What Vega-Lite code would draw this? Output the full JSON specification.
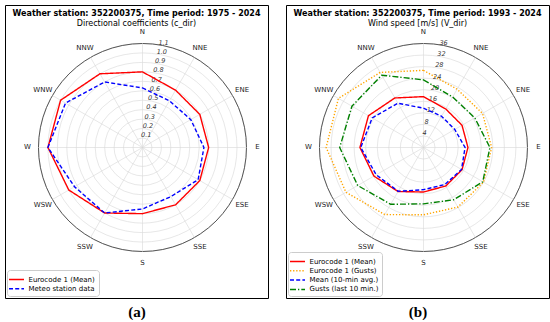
{
  "$schema": "https://vega.github.io/schema/vega-lite/v6.json",
  "padding": {"left": 4, "top": 4, "right": 0, "bottom": 0},
  "spacing": 16,
  "background": "white",
  "config": {
    "view": {"stroke": "black", "strokeWidth": 1},
    "axisX": {"domain": false, "ticks": false, "labels": false, "grid": false, "titleFont": "Liberation Serif", "titleFontSize": 15, "titleFontWeight": "bold", "titleColor": "black", "titlePadding": 6},
    "axisY": {"disable": true},
    "title": {"font": "DejaVu Sans", "fontSize": 8, "fontWeight": "bold", "color": "black", "subtitleFont": "DejaVu Sans", "subtitleFontSize": 8, "subtitleColor": "black", "subtitlePadding": 2, "offset": -23, "anchor": "middle"},
    "legend": {"orient": "bottom-left", "offset": 2, "padding": 3.5, "fillColor": "white", "strokeColor": "#cccccc", "cornerRadius": 3, "labelFontSize": 7, "labelFont": "DejaVu Sans", "labelColor": "black", "symbolType": "M-1.5,0H1.5", "symbolSize": 100, "symbolStrokeWidth": 1.5, "rowPadding": 0.3, "labelOffset": 6, "labelLimit": 300}
  },
  "resolve": {"scale": {"color": "independent", "strokeDash": "independent", "size": "independent"}},
  "datasets": {
    "dirs": [
      {"dir": "N", "angle": 0}, {"dir": "NNE", "angle": 30}, {"dir": "ENE", "angle": 60}, {"dir": "E", "angle": 90},
      {"dir": "ESE", "angle": 120}, {"dir": "SSE", "angle": 150}, {"dir": "S", "angle": 180}, {"dir": "SSW", "angle": 210},
      {"dir": "WSW", "angle": 240}, {"dir": "W", "angle": 270}, {"dir": "WNW", "angle": 300}, {"dir": "NNW", "angle": 330}
    ],
    "ringsA": [{"t": 0.1}, {"t": 0.2}, {"t": 0.3}, {"t": 0.4}, {"t": 0.5}, {"t": 0.6}, {"t": 0.7}, {"t": 0.8}, {"t": 0.9}, {"t": 1.0}, {"t": 1.1}],
    "ringsB": [{"t": 4}, {"t": 8}, {"t": 12}, {"t": 16}, {"t": 20}, {"t": 24}, {"t": 28}, {"t": 32}, {"t": 36}],
    "seriesA": [
      {"s": "Eurocode 1 (Mean)", "angle": 0, "v": 0.8}, {"s": "Eurocode 1 (Mean)", "angle": 30, "v": 0.7}, {"s": "Eurocode 1 (Mean)", "angle": 60, "v": 0.7}, {"s": "Eurocode 1 (Mean)", "angle": 90, "v": 0.7},
      {"s": "Eurocode 1 (Mean)", "angle": 120, "v": 0.7}, {"s": "Eurocode 1 (Mean)", "angle": 150, "v": 0.7}, {"s": "Eurocode 1 (Mean)", "angle": 180, "v": 0.7}, {"s": "Eurocode 1 (Mean)", "angle": 210, "v": 0.8},
      {"s": "Eurocode 1 (Mean)", "angle": 240, "v": 0.9}, {"s": "Eurocode 1 (Mean)", "angle": 270, "v": 1.0}, {"s": "Eurocode 1 (Mean)", "angle": 300, "v": 1.0}, {"s": "Eurocode 1 (Mean)", "angle": 330, "v": 0.9},
      {"s": "Meteo station data", "angle": 0, "v": 0.63}, {"s": "Meteo station data", "angle": 30, "v": 0.57}, {"s": "Meteo station data", "angle": 60, "v": 0.59}, {"s": "Meteo station data", "angle": 90, "v": 0.65},
      {"s": "Meteo station data", "angle": 120, "v": 0.68}, {"s": "Meteo station data", "angle": 150, "v": 0.6}, {"s": "Meteo station data", "angle": 180, "v": 0.65}, {"s": "Meteo station data", "angle": 210, "v": 0.8},
      {"s": "Meteo station data", "angle": 240, "v": 0.83}, {"s": "Meteo station data", "angle": 270, "v": 1.0}, {"s": "Meteo station data", "angle": 300, "v": 0.94}, {"s": "Meteo station data", "angle": 330, "v": 0.8}
    ],
    "seriesB": [
      {"s": "Eurocode 1 (Mean)", "angle": 0, "v": 17.6}, {"s": "Eurocode 1 (Mean)", "angle": 30, "v": 15.4}, {"s": "Eurocode 1 (Mean)", "angle": 60, "v": 15.4}, {"s": "Eurocode 1 (Mean)", "angle": 90, "v": 15.4},
      {"s": "Eurocode 1 (Mean)", "angle": 120, "v": 15.4}, {"s": "Eurocode 1 (Mean)", "angle": 150, "v": 15.4}, {"s": "Eurocode 1 (Mean)", "angle": 180, "v": 15.4}, {"s": "Eurocode 1 (Mean)", "angle": 210, "v": 17.6},
      {"s": "Eurocode 1 (Mean)", "angle": 240, "v": 19.8}, {"s": "Eurocode 1 (Mean)", "angle": 270, "v": 22}, {"s": "Eurocode 1 (Mean)", "angle": 300, "v": 22}, {"s": "Eurocode 1 (Mean)", "angle": 330, "v": 19.8},
      {"s": "Eurocode 1 (Gusts)", "angle": 0, "v": 26.7}, {"s": "Eurocode 1 (Gusts)", "angle": 30, "v": 23.3}, {"s": "Eurocode 1 (Gusts)", "angle": 60, "v": 23.6}, {"s": "Eurocode 1 (Gusts)", "angle": 90, "v": 23.6},
      {"s": "Eurocode 1 (Gusts)", "angle": 120, "v": 24.0}, {"s": "Eurocode 1 (Gusts)", "angle": 150, "v": 23.8}, {"s": "Eurocode 1 (Gusts)", "angle": 180, "v": 23.3}, {"s": "Eurocode 1 (Gusts)", "angle": 210, "v": 26.8},
      {"s": "Eurocode 1 (Gusts)", "angle": 240, "v": 31.0}, {"s": "Eurocode 1 (Gusts)", "angle": 270, "v": 33.7}, {"s": "Eurocode 1 (Gusts)", "angle": 300, "v": 34.0}, {"s": "Eurocode 1 (Gusts)", "angle": 330, "v": 30.0},
      {"s": "Mean (10-min avg.)", "angle": 0, "v": 13.6}, {"s": "Mean (10-min avg.)", "angle": 30, "v": 12.5}, {"s": "Mean (10-min avg.)", "angle": 60, "v": 12.5}, {"s": "Mean (10-min avg.)", "angle": 90, "v": 14.4},
      {"s": "Mean (10-min avg.)", "angle": 120, "v": 15.2}, {"s": "Mean (10-min avg.)", "angle": 150, "v": 14.8}, {"s": "Mean (10-min avg.)", "angle": 180, "v": 14.6}, {"s": "Mean (10-min avg.)", "angle": 210, "v": 17.5},
      {"s": "Mean (10-min avg.)", "angle": 240, "v": 18.9}, {"s": "Mean (10-min avg.)", "angle": 270, "v": 21.7}, {"s": "Mean (10-min avg.)", "angle": 300, "v": 20.5}, {"s": "Mean (10-min avg.)", "angle": 330, "v": 17.7},
      {"s": "Gusts (last 10 min.)", "angle": 0, "v": 23.4}, {"s": "Gusts (last 10 min.)", "angle": 30, "v": 20.2}, {"s": "Gusts (last 10 min.)", "angle": 60, "v": 20.5}, {"s": "Gusts (last 10 min.)", "angle": 90, "v": 23.0},
      {"s": "Gusts (last 10 min.)", "angle": 120, "v": 23.7}, {"s": "Gusts (last 10 min.)", "angle": 150, "v": 20.9}, {"s": "Gusts (last 10 min.)", "angle": 180, "v": 19.5}, {"s": "Gusts (last 10 min.)", "angle": 210, "v": 22.7},
      {"s": "Gusts (last 10 min.)", "angle": 240, "v": 26.3}, {"s": "Gusts (last 10 min.)", "angle": 270, "v": 29.0}, {"s": "Gusts (last 10 min.)", "angle": 300, "v": 28.6}, {"s": "Gusts (last 10 min.)", "angle": 330, "v": 28.9}
    ]
  },
  "hconcat": [
    {
      "width": 263, "height": 293,
      "title": {"text": "Weather station: 352200375, Time period: 1975 - 2024", "subtitle": "Directional coefficients (c_dir)"},
      "layer": [
        {
          "data": {"name": "ringsA"},
          "transform": [{"calculate": "0", "as": "o"}],
          "mark": {"type": "point", "shape": "circle", "filled": false, "opacity": 1, "strokeWidth": 0.6, "stroke": "#d6d6d6"},
          "encoding": {
            "x": {"field": "o", "type": "quantitative", "scale": {"domain": [-1.322, 1.207], "nice": false, "zero": false}, "title": "(a)"},
            "y": {"field": "o", "type": "quantitative", "scale": {"domain": [-1.447, 1.37], "nice": false, "zero": false}},
            "size": {"field": "t", "type": "quantitative", "scale": {"type": "pow", "exponent": 2, "domain": [0, 1.1], "range": [0, 43264]}, "legend": null}
          }
        },
        {
          "data": {"name": "ringsA"},
          "transform": [{"filter": "datum.t > 1.05"}, {"calculate": "0", "as": "o"}],
          "mark": {"type": "point", "shape": "circle", "filled": false, "opacity": 1, "strokeWidth": 1, "stroke": "#555555"},
          "encoding": {
            "x": {"field": "o", "type": "quantitative", "scale": {"domain": [-1.322, 1.207], "nice": false, "zero": false}, "title": "(a)"},
            "y": {"field": "o", "type": "quantitative", "scale": {"domain": [-1.447, 1.37], "nice": false, "zero": false}},
            "size": {"field": "t", "type": "quantitative", "scale": {"type": "pow", "exponent": 2, "domain": [0, 1.1], "range": [0, 43264]}, "legend": null}
          }
        },
        {
          "data": {"name": "dirs"},
          "transform": [{"calculate": "0", "as": "o"}, {"calculate": "sin(datum.angle*PI/180)", "as": "ex"}, {"calculate": "cos(datum.angle*PI/180)", "as": "ey"}],
          "mark": {"type": "rule", "stroke": "#d6d6d6", "strokeWidth": 0.6},
          "encoding": {
            "x": {"field": "o", "type": "quantitative", "scale": {"domain": [-1.322, 1.207], "nice": false, "zero": false}, "title": "(a)"},
            "y": {"field": "o", "type": "quantitative", "scale": {"domain": [-1.447, 1.37], "nice": false, "zero": false}},
            "x2": {"field": "ex"},
            "y2": {"field": "ey"}
          }
        },
        {
          "data": {"name": "dirs"},
          "transform": [{"calculate": "1.106*sin(datum.angle*PI/180)", "as": "lx"}, {"calculate": "1.106*cos(datum.angle*PI/180)", "as": "ly"}],
          "mark": {"type": "text", "font": "DejaVu Sans", "fontSize": 7, "color": "#222222", "align": "center", "baseline": "middle"},
          "encoding": {
            "x": {"field": "lx", "type": "quantitative", "scale": {"domain": [-1.322, 1.207], "nice": false, "zero": false}, "title": "(a)"},
            "y": {"field": "ly", "type": "quantitative", "scale": {"domain": [-1.447, 1.37], "nice": false, "zero": false}},
            "text": {"field": "dir", "type": "nominal"}
          }
        },
        {
          "data": {"name": "ringsA"},
          "transform": [{"calculate": "datum.t/1.1", "as": "rn"}, {"calculate": "0.183*datum.rn-0.03", "as": "tx"}, {"calculate": "0.978*datum.rn+0.03", "as": "ty"}],
          "mark": {"type": "text", "font": "DejaVu Sans", "fontSize": 6.5, "fontStyle": "italic", "color": "#333333", "align": "left", "baseline": "middle"},
          "encoding": {
            "x": {"field": "tx", "type": "quantitative", "scale": {"domain": [-1.322, 1.207], "nice": false, "zero": false}, "title": "(a)"},
            "y": {"field": "ty", "type": "quantitative", "scale": {"domain": [-1.447, 1.37], "nice": false, "zero": false}},
            "text": {"field": "t", "type": "quantitative", "format": ".1f"}
          }
        },
        {
          "data": {"name": "seriesA"},
          "transform": [{"calculate": "datum.v/1.1*sin(datum.angle*PI/180)", "as": "px"}, {"calculate": "datum.v/1.1*cos(datum.angle*PI/180)", "as": "py"}],
          "mark": {"type": "line", "interpolate": "linear-closed", "strokeWidth": 1.4},
          "encoding": {
            "x": {"field": "px", "type": "quantitative", "scale": {"domain": [-1.322, 1.207], "nice": false, "zero": false}, "title": "(a)"},
            "y": {"field": "py", "type": "quantitative", "scale": {"domain": [-1.447, 1.37], "nice": false, "zero": false}},
            "order": {"field": "angle", "type": "quantitative"},
            "color": {"field": "s", "type": "nominal", "title": null, "scale": {"domain": ["Eurocode 1 (Mean)", "Meteo station data"], "range": ["#ff0000", "#0000ff"]}},
            "strokeDash": {"field": "s", "type": "nominal", "title": null, "scale": {"domain": ["Eurocode 1 (Mean)", "Meteo station data"], "range": [[1, 0], [4, 2.2]]}}
          }
        }
      ]
    },
    {
      "width": 263, "height": 293,
      "title": {"text": "Weather station: 352200375, Time period: 1993 - 2024", "subtitle": "Wind speed [m/s] (V_dir)"},
      "layer": [
        {
          "data": {"name": "ringsB"},
          "transform": [{"calculate": "0", "as": "o"}],
          "mark": {"type": "point", "shape": "circle", "filled": false, "opacity": 1, "strokeWidth": 0.6, "stroke": "#d6d6d6"},
          "encoding": {
            "x": {"field": "o", "type": "quantitative", "scale": {"domain": [-1.322, 1.207], "nice": false, "zero": false}, "title": "(b)"},
            "y": {"field": "o", "type": "quantitative", "scale": {"domain": [-1.447, 1.37], "nice": false, "zero": false}},
            "size": {"field": "t", "type": "quantitative", "scale": {"type": "pow", "exponent": 2, "domain": [0, 36], "range": [0, 43264]}, "legend": null}
          }
        },
        {
          "data": {"name": "ringsB"},
          "transform": [{"filter": "datum.t > 35"}, {"calculate": "0", "as": "o"}],
          "mark": {"type": "point", "shape": "circle", "filled": false, "opacity": 1, "strokeWidth": 1, "stroke": "#555555"},
          "encoding": {
            "x": {"field": "o", "type": "quantitative", "scale": {"domain": [-1.322, 1.207], "nice": false, "zero": false}, "title": "(b)"},
            "y": {"field": "o", "type": "quantitative", "scale": {"domain": [-1.447, 1.37], "nice": false, "zero": false}},
            "size": {"field": "t", "type": "quantitative", "scale": {"type": "pow", "exponent": 2, "domain": [0, 36], "range": [0, 43264]}, "legend": null}
          }
        },
        {
          "data": {"name": "dirs"},
          "transform": [{"calculate": "0", "as": "o"}, {"calculate": "sin(datum.angle*PI/180)", "as": "ex"}, {"calculate": "cos(datum.angle*PI/180)", "as": "ey"}],
          "mark": {"type": "rule", "stroke": "#d6d6d6", "strokeWidth": 0.6},
          "encoding": {
            "x": {"field": "o", "type": "quantitative", "scale": {"domain": [-1.322, 1.207], "nice": false, "zero": false}, "title": "(b)"},
            "y": {"field": "o", "type": "quantitative", "scale": {"domain": [-1.447, 1.37], "nice": false, "zero": false}},
            "x2": {"field": "ex"},
            "y2": {"field": "ey"}
          }
        },
        {
          "data": {"name": "dirs"},
          "transform": [{"calculate": "1.106*sin(datum.angle*PI/180)", "as": "lx"}, {"calculate": "1.106*cos(datum.angle*PI/180)", "as": "ly"}],
          "mark": {"type": "text", "font": "DejaVu Sans", "fontSize": 7, "color": "#222222", "align": "center", "baseline": "middle"},
          "encoding": {
            "x": {"field": "lx", "type": "quantitative", "scale": {"domain": [-1.322, 1.207], "nice": false, "zero": false}, "title": "(b)"},
            "y": {"field": "ly", "type": "quantitative", "scale": {"domain": [-1.447, 1.37], "nice": false, "zero": false}},
            "text": {"field": "dir", "type": "nominal"}
          }
        },
        {
          "data": {"name": "ringsB"},
          "transform": [{"calculate": "datum.t/36", "as": "rn"}, {"calculate": "0.183*datum.rn-0.03", "as": "tx"}, {"calculate": "0.978*datum.rn+0.03", "as": "ty"}],
          "mark": {"type": "text", "font": "DejaVu Sans", "fontSize": 6.5, "fontStyle": "italic", "color": "#333333", "align": "left", "baseline": "middle"},
          "encoding": {
            "x": {"field": "tx", "type": "quantitative", "scale": {"domain": [-1.322, 1.207], "nice": false, "zero": false}, "title": "(b)"},
            "y": {"field": "ty", "type": "quantitative", "scale": {"domain": [-1.447, 1.37], "nice": false, "zero": false}},
            "text": {"field": "t", "type": "quantitative", "format": "d"}
          }
        },
        {
          "data": {"name": "seriesB"},
          "transform": [{"calculate": "datum.v/36*sin(datum.angle*PI/180)", "as": "px"}, {"calculate": "datum.v/36*cos(datum.angle*PI/180)", "as": "py"}],
          "mark": {"type": "line", "interpolate": "linear-closed", "strokeWidth": 1.4},
          "encoding": {
            "x": {"field": "px", "type": "quantitative", "scale": {"domain": [-1.322, 1.207], "nice": false, "zero": false}, "title": "(b)"},
            "y": {"field": "py", "type": "quantitative", "scale": {"domain": [-1.447, 1.37], "nice": false, "zero": false}},
            "order": {"field": "angle", "type": "quantitative"},
            "color": {"field": "s", "type": "nominal", "title": null, "scale": {"domain": ["Eurocode 1 (Mean)", "Eurocode 1 (Gusts)", "Mean (10-min avg.)", "Gusts (last 10 min.)"], "range": ["#ff0000", "#ffa500", "#0000ff", "#008000"]}},
            "strokeDash": {"field": "s", "type": "nominal", "title": null, "scale": {"domain": ["Eurocode 1 (Mean)", "Eurocode 1 (Gusts)", "Mean (10-min avg.)", "Gusts (last 10 min.)"], "range": [[1, 0], [1.3, 1.8], [4, 2.2], [6, 2, 1.3, 2]]}}
          }
        }
      ]
    }
  ]
}
